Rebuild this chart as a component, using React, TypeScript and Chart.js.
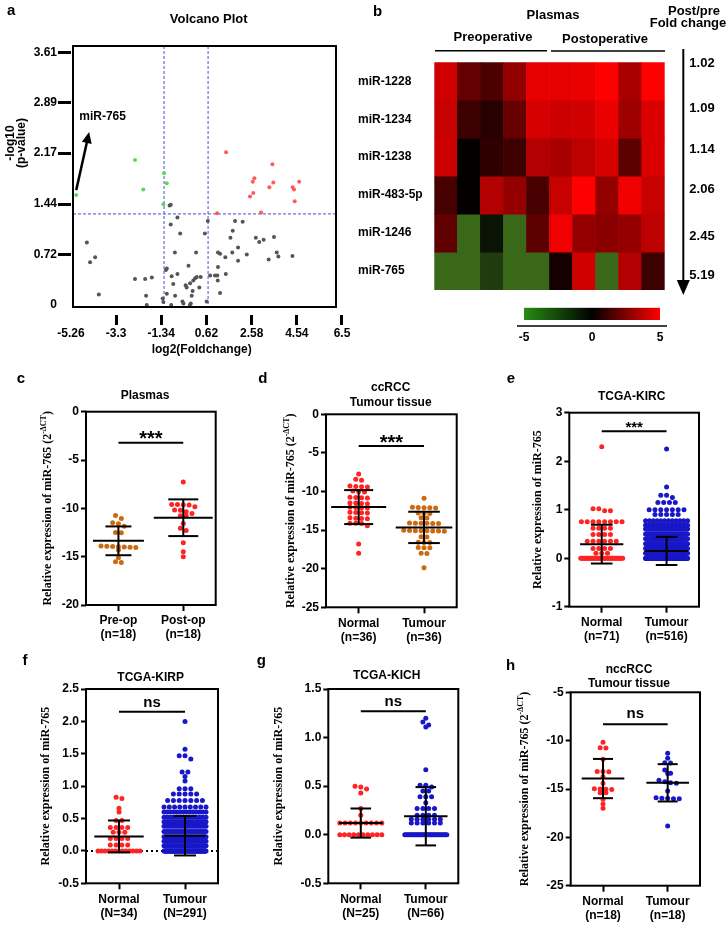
import React, { useEffect, useRef } from 'react';
import { Chart, registerables } from 'chart.js';

Chart.register(...registerables);

const SANS = 'Arial, "Liberation Sans", Helvetica, sans-serif';
const SERIF = '"Times New Roman", "Liberation Serif", Times, serif';
Chart.defaults.font.family = SANS;
Chart.defaults.color = '#000';

const RED = '#ff2424';
const ORANGE = '#cc6a12';
const BLUE = '#1818c8';

/* ---------------- a: volcano plot ---------------- */
const volcanoXTicks = [-5.26, -3.3, -1.34, 0.62, 2.58, 4.54, 6.5];
const volcanoYTicks = [0, 0.72, 1.44, 2.17, 2.89, 3.61];
const volcanoFcCutoffs = [-1.22, 0.69];
const volcanoPCutoff = 1.3;
const volcanoDown = [[-5.03, 1.57], [-2.48, 2.07], [-2.12, 1.65], [-1.22, 1.88], [-1.1, 1.74], [-1.25, 1.44]];
const volcanoUp = [[1.47, 2.18], [3.48, 2.01], [2.7, 1.81], [2.63, 1.76], [3.52, 1.75], [3.35, 1.68], [4.64, 1.76], [4.36, 1.68], [4.42, 1.65], [2.65, 1.6], [2.51, 1.55], [4.45, 1.48], [2.99, 1.32], [1.08, 1.31]];
const volcanoNs = [[-0.98, 1.42], [-0.93, 1.43], [-0.64, 1.25], [-0.93, 1.15], [-0.52, 1.02], [0.68, 1.2], [0.55, 1.02], [1.86, 1.2], [2.19, 1.19], [1.76, 1.06], [1.66, 0.96], [2.76, 0.96], [3.1, 0.93], [2.91, 0.9], [3.55, 0.97], [-4.57, 0.89], [1.99, 0.82], [2.37, 0.72], [1.74, 0.75], [1.44, 0.68], [1.12, 0.75], [1.21, 0.73], [0.17, 0.75], [-0.75, 0.75], [-4.21, 0.68], [-4.43, 0.61], [1.99, 0.63], [3.32, 0.65], [3.67, 0.75], [3.74, 0.69], [4.35, 0.7], [1.12, 0.54], [-0.16, 0.56], [-1.14, 0.5], [-1.1, 0.52], [-2.48, 0.37], [-2.04, 0.37], [-1.75, 0.39], [-0.89, 0.41], [-0.64, 0.44], [-0.82, 0.3], [-0.28, 0.28], [-0.24, 0.25], [-0.09, 0.31], [0.05, 0.35], [0.13, 0.38], [0.2, 0.4], [0.02, 0.2], [0.31, 0.25], [0.37, 0.4], [0.78, 0.42], [0.99, 0.42], [1.09, 0.42], [1.46, 0.44], [1.11, 0.35], [1.21, 0.17], [-0.02, 0.13], [-0.74, 0.13], [-1.1, 0.16], [-1.28, 0.09], [-1.25, 0.04], [-2.0, 0.13], [-4.05, 0.15], [-0.42, 0.05], [-0.38, 0.02], [-0.91, 0.0], [-1.97, 0.0], [-0.06, 0.02], [-0.1, 0.0], [0.63, 0.05]];
const volcanoArrow = [[-5.03, 1.64], [-4.47, 2.47]];
const volcanoLabel = 'miR-765';
const volcanoLabelAt = [-3.885, 2.69];

/* ---------------- b: heatmap ---------------- */
const heatRows = ['miR-1228', 'miR-1234', 'miR-1238', 'miR-483-5p', 'miR-1246', 'miR-765'];
const heatCols = ['Pre1', 'Pre2', 'Pre3', 'Pre4', 'Pre5', 'Post1', 'Post2', 'Post3', 'Post4', 'Post5'];
const heatValues = [
  [4.1, 2.0, 1.5, 2.9, 4.5, 4.5, 4.6, 5.0, 3.3, 5.0],
  [3.9, 1.2, 0.8, 2.0, 4.2, 4.0, 4.1, 4.6, 3.1, 4.3],
  [4.0, 0.1, 0.9, 1.2, 3.5, 3.3, 3.7, 4.2, 1.8, 4.3],
  [1.4, 0.1, 3.5, 2.9, 1.4, 3.9, 5.0, 2.9, 4.7, 3.9],
  [1.9, -3.7, -0.7, -3.7, 1.8, 4.7, 2.9, 2.7, 2.9, 3.7],
  [-3.7, -3.7, -2.1, -3.7, -3.7, 0.4, 4.1, -3.7, 3.5, 1.2],
];
const foldChanges = ['1.02', '1.09', '1.14', '2.06', '2.45', '5.19'];
const colorbarTicks = [-5, 0, 5];

/* ---------------- c: plasma ---------------- */
const plasmaGroups = [['Pre-op', '(n=18)'], ['Post-op', '(n=18)']];
const plasmaPre = [-10.73, -11.05, -11.49, -11.6, -11.85, -12.49, -12.52, -13.9, -13.95, -14.0, -14.05, -13.98, -14.02, -13.93, -14.32, -15.11, -15.6, -15.52];
const plasmaPost = [-7.28, -9.59, -9.62, -9.65, -9.6, -9.83, -10.18, -10.2, -10.35, -10.52, -10.76, -10.8, -11.56, -12.07, -12.3, -13.56, -14.49, -15.01];
const plasmaMeans = [-13.36, -10.97];
const plasmaSDs = [1.49, 1.9];

/* ---------------- d: ccRCC tissue ---------------- */
const ccGroups = [['Normal', '(n=36)'], ['Tumour', '(n=36)']];
const ccNormal = [-7.73, -8.42, -8.55, -9.3, -9.37, -9.42, -9.35, -10.0, -10.05, -9.95, -10.8, -10.75, -10.85, -10.78, -11.5, -11.55, -11.48, -11.6, -12.1, -12.05, -12.15, -12.08, -12.7, -12.75, -12.8, -12.72, -13.45, -13.5, -13.4, -13.52, -14.1, -14.15, -14.12, -14.45, -16.8, -18.0];
const ccTumour = [-10.88, -12.05, -12.1, -12.12, -12.15, -12.08, -12.8, -12.85, -12.82, -13.39, -13.42, -14.1, -14.12, -14.15, -14.08, -14.14, -14.11, -15.1, -15.05, -15.12, -15.08, -15.15, -15.1, -15.02, -15.13, -15.85, -15.88, -16.6, -16.62, -16.58, -17.28, -17.3, -17.25, -18.0, -18.02, -19.87];
const ccMeans = [-12.02, -14.65];
const ccSDs = [2.2, 2.03];

/* ---------------- e: TCGA-KIRC ([value, count]) ---------------- */
const kircGroups = [['Normal', '(n=71)'], ['Tumour', '(n=516)']];
const kircNormalRows = [[2.3, 1], [1.02, 2], [0.98, 2], [0.75, 8], [0.62, 4], [0.49, 4], [0.35, 6], [0.2, 4], [0.1, 3], [0, 37]];
const kircTumourRows = [[2.25, 1], [1.47, 1], [1.3, 2], [1.25, 1], [1.15, 4], [1.0, 7], [0.9, 5], [0.77, 12], [0.68, 30], [0.6, 35], [0.5, 40], [0.4, 45], [0.3, 50], [0.2, 55], [0.1, 60], [0, 168]];
const kircMeans = [0.29, 0.15];
const kircSDs = [0.4, 0.29];

/* ---------------- f: TCGA-KIRP ---------------- */
const kirpGroups = [['Normal', '(N=34)'], ['Tumour', '(N=291)']];
const kirpNormalRows = [[0.83, 1], [0.81, 1], [0.66, 1], [0.6, 1], [0.47, 2], [0.36, 4], [0.29, 3], [0.19, 4], [0.09, 4], [0, 13]];
const kirpTumourRows = [[2.0, 1], [1.57, 1], [1.47, 2], [1.42, 1], [1.22, 2], [1.15, 1], [1.08, 1], [0.96, 3], [0.88, 5], [0.78, 7], [0.68, 9], [0.6, 14], [0.52, 18], [0.45, 20], [0.38, 20], [0.3, 22], [0.22, 24], [0.15, 24], [0.08, 26], [0, 90]];
const kirpMeans = [0.224, 0.235];
const kirpSDs = [0.246, 0.305];

/* ---------------- g: TCGA-KICH ---------------- */
const kichGroups = [['Normal', '(N=25)'], ['Tumour', '(N=66)']];
const kichNormalRows = [[0.5, 1], [0.49, 1], [0.47, 1], [0.43, 1], [0.27, 1], [0.2, 1], [0.12, 9], [0, 10]];
const kichTumourRows = [[1.2, 1], [1.16, 1], [1.13, 1], [1.11, 1], [0.67, 1], [0.51, 2], [0.49, 1], [0.45, 2], [0.39, 3], [0.33, 1], [0.27, 4], [0.2, 4], [0.16, 6], [0.12, 6], [0, 32]];
const kichMeans = [0.12, 0.19];
const kichSDs = [0.15, 0.3];

/* ---------------- h: nccRCC tissue ---------------- */
const nccGroups = [['Normal', '(n=18)'], ['Tumour', '(n=18)']];
const nccNormal = [-10.17, -10.73, -10.75, -11.93, -13.2, -13.22, -13.18, -13.73, -14.41, -15.0, -14.98, -15.02, -15.05, -15.38, -15.4, -16.07, -16.55, -17.0];
const nccTumour = [-11.31, -11.83, -12.28, -12.3, -13.03, -13.38, -13.4, -14.1, -14.25, -14.35, -14.41, -15.2, -15.96, -15.9, -16.0, -15.95, -16.02, -18.83];
const nccMeans = [-13.92, -14.36];
const nccSDs = [2.03, 1.93];

const yTitleText = 'Relative expression of miR-765';

/* ---------------- helpers ---------------- */
function expand(rows: number[][]): number[] {
  const out: number[] = [];
  rows.forEach(([v, n]) => {
    for (let i = 0; i < n; i++) out.push(v);
  });
  return out;
}

// beeswarm-like row layout of the points of one group
function swarm(values: number[], center: number, spacing: number, maxHalf: number, tol: number) {
  const sorted = [...values].sort((a, b) => b - a);
  const bins: number[][] = [];
  let cur: number[] = [];
  let start = 0;
  for (const v of sorted) {
    if (cur.length && start - v > tol) {
      bins.push(cur);
      cur = [];
    }
    if (!cur.length) start = v;
    cur.push(v);
  }
  if (cur.length) bins.push(cur);
  const pts: { x: number; y: number }[] = [];
  for (const bin of bins) {
    const n = bin.length;
    let sp = spacing;
    if (n > 1 && (n - 1) * sp > 2 * maxHalf) sp = (2 * maxHalf) / (n - 1);
    bin.forEach((v, k) => pts.push({ x: center + (k - (n - 1) / 2) * sp, y: v }));
  }
  return pts;
}

function heatColor(v: number) {
  if (v >= 0) {
    const t = Math.min(v / 5, 1);
    return `rgb(${Math.round(255 * t)},0,0)`;
  }
  const t = Math.min(-v / 5, 1);
  return `rgb(${Math.round(75 * t)},${Math.round(140 * t)},${Math.round(32 * t)})`;
}

function textFn(ctx: CanvasRenderingContext2D, ox: number, oy: number) {
  return (s: string, x: number, y: number, size = 12, align: CanvasTextAlign = 'center', baseline: CanvasTextBaseline = 'middle', family = SANS) => {
    ctx.save();
    ctx.font = `bold ${size}px ${family}`;
    ctx.fillStyle = '#000';
    ctx.textAlign = align;
    ctx.textBaseline = baseline;
    ctx.fillText(s, x - ox, y - oy);
    ctx.restore();
  };
}

function line(ctx: CanvasRenderingContext2D, x1: number, y1: number, x2: number, y2: number) {
  ctx.beginPath();
  ctx.moveTo(x1, y1);
  ctx.lineTo(x2, y2);
  ctx.stroke();
}

const baseOptions: any = {
  responsive: false,
  maintainAspectRatio: false,
  animation: false,
  events: [],
  plugins: { legend: { display: false }, tooltip: { enabled: false }, title: { display: false } },
};

const tickFont = { family: SANS, size: 12, weight: 'bold' as const };
const transparent = 'rgba(0,0,0,0)';

/* ---------------- volcano config ---------------- */
const volcanoCanvas = [0, 0, 370, 360];
function volcanoConfig(): any {
  const [cl, ct, cw, ch] = volcanoCanvas;
  const [L, T, R, B] = [73, 46, 336, 307];
  const toPts = (arr: number[][]) => arr.map(([x, y]) => ({ x, y }));
  const ds = (data: number[][], color: string) => ({
    data: toPts(data),
    backgroundColor: color,
    borderColor: color,
    borderWidth: 0,
    pointRadius: 2,
  });
  return {
    type: 'scatter',
    data: { datasets: [ds(volcanoNs, '#555555'), ds(volcanoDown, '#5ad85a'), ds(volcanoUp, '#ff5a5a')] },
    options: {
      ...baseOptions,
      layout: { padding: { left: 0, top: T - ct, right: cl + cw - R, bottom: 0 }, autoPadding: false },
      scales: {
        x: {
          type: 'linear',
          min: -5.17,
          max: 6.24,
          afterBuildTicks: (s: any) => {
            s.ticks = volcanoXTicks.map((value) => ({ value }));
          },
          ticks: { font: tickFont, color: '#000', padding: 1, maxRotation: 0, autoSkip: false, callback: (v: any) => String(v) },
          grid: {
            display: true,
            drawOnChartArea: false,
            drawTicks: true,
            tickLength: 18,
            tickWidth: 3,
            tickColor: (c: any) => (c.tick && c.tick.value === volcanoXTicks[0] ? transparent : '#000'),
            tickBorderDash: [10, 8],
            tickBorderDashOffset: 10,
          },
          border: { display: false },
          afterFit: (s: any) => {
            s.height = ct + ch - B;
          },
        },
        y: {
          type: 'linear',
          min: -0.03,
          max: 3.7,
          afterBuildTicks: (s: any) => {
            s.ticks = volcanoYTicks.map((value) => ({ value }));
          },
          ticks: { font: tickFont, color: '#000', padding: 1, autoSkip: false, callback: (v: any) => String(v) },
          grid: {
            display: true,
            drawOnChartArea: false,
            drawTicks: true,
            tickLength: 15,
            tickWidth: 3,
            tickColor: (c: any) => (c.tick && c.tick.value === 0 ? transparent : '#000'),
            tickBorderDash: [13, 2],
          },
          border: { display: false },
          afterFit: (s: any) => {
            s.width = L - cl;
          },
        },
      },
    },
    plugins: [
      {
        id: 'volcanoDecor',
        beforeDatasetsDraw(chart: any) {
          const { ctx, chartArea: a, scales } = chart;
          ctx.save();
          ctx.strokeStyle = '#4c4cd6';
          ctx.lineWidth = 1;
          ctx.setLineDash([3, 2]);
          volcanoFcCutoffs.forEach((v) => {
            const px = scales.x.getPixelForValue(v);
            line(ctx, px, a.top, px, a.bottom);
          });
          const py = scales.y.getPixelForValue(volcanoPCutoff);
          line(ctx, a.left, py, a.right, py);
          ctx.restore();
        },
        afterDraw(chart: any) {
          const { ctx, chartArea: a, scales } = chart;
          ctx.save();
          ctx.strokeStyle = '#000';
          ctx.lineWidth = 2;
          ctx.strokeRect(a.left, a.top, a.right - a.left, a.bottom - a.top);
          // arrow to miR-765
          const x0 = scales.x.getPixelForValue(volcanoArrow[0][0]);
          const y0 = scales.y.getPixelForValue(volcanoArrow[0][1]);
          const x1 = scales.x.getPixelForValue(volcanoArrow[1][0]);
          const y1 = scales.y.getPixelForValue(volcanoArrow[1][1]);
          const ang = Math.atan2(y1 - y0, x1 - x0);
          const head = 11;
          ctx.lineWidth = 2.5;
          line(ctx, x0, y0, x1 - Math.cos(ang) * head * 0.8, y1 - Math.sin(ang) * head * 0.8);
          ctx.fillStyle = '#000';
          ctx.beginPath();
          ctx.moveTo(x1, y1);
          ctx.lineTo(x1 - head * Math.cos(ang) + 5 * Math.sin(ang), y1 - head * Math.sin(ang) - 5 * Math.cos(ang));
          ctx.lineTo(x1 - head * Math.cos(ang) - 5 * Math.sin(ang), y1 - head * Math.sin(ang) + 5 * Math.cos(ang));
          ctx.closePath();
          ctx.fill();
          ctx.restore();
          const t = textFn(ctx, cl, ct);
          t(volcanoLabel, scales.x.getPixelForValue(volcanoLabelAt[0]) + cl, scales.y.getPixelForValue(volcanoLabelAt[1]) + ct, 12);
          t('a', 7, 15, 15, 'left', 'alphabetic');
          t('Volcano Plot', 208.7, 19, 13);
          t('log2(Foldchange)', 201.7, 350, 12);
          // rotated y title
          ctx.save();
          ctx.translate(16 - cl, 143 - ct);
          ctx.rotate(-Math.PI / 2);
          ctx.font = `bold 12px ${SANS}`;
          ctx.fillStyle = '#000';
          ctx.textAlign = 'center';
          ctx.textBaseline = 'middle';
          ctx.fillText('-log10', 0, -5);
          ctx.fillText('(p-value)', 0, 6);
          ctx.restore();
        },
      },
    ],
  };
}

/* ---------------- heatmap config ---------------- */
const heatCanvas = [350, 0, 378, 300];
function heatmapConfig(): any {
  const [cl, ct, cw, ch] = heatCanvas;
  const [L, T, R, B] = [434.3, 62.3, 664.7, 290];
  const padLeft = 8;
  return {
    type: 'bar',
    data: {
      labels: heatCols,
      datasets: heatRows.map((name, r) => ({
        label: name,
        data: heatCols.map(() => [r, r + 1]),
        backgroundColor: heatValues[r].map(heatColor),
        borderWidth: 0,
        barPercentage: 1,
        categoryPercentage: 1,
        grouped: false,
      })),
    },
    options: {
      ...baseOptions,
      layout: { padding: { left: padLeft, top: T - ct, right: cl + cw - R, bottom: ct + ch - B }, autoPadding: false },
      scales: {
        x: { display: false },
        y: {
          type: 'linear',
          min: 0,
          max: heatRows.length,
          reverse: true,
          afterBuildTicks: (s: any) => {
            s.ticks = heatRows.map((_, i) => ({ value: i + 0.5 }));
          },
          ticks: { callback: (v: any) => heatRows[Math.floor(v)], crossAlign: 'far', padding: 0, font: tickFont, color: '#000', autoSkip: false },
          grid: { display: false, drawTicks: false },
          border: { display: false },
          afterFit: (s: any) => {
            s.width = L - cl - padLeft;
          },
        },
      },
    },
    plugins: [
      {
        id: 'heatDecor',
        afterDraw(chart: any) {
          const { ctx } = chart;
          const t = textFn(ctx, cl, ct);
          t('b', 373, 16, 15, 'left', 'alphabetic');
          t('Plasmas', 553, 15, 13);
          t('Preoperative', 493, 37, 13);
          t('Postoperative', 605, 39, 13);
          t('Post/pre', 694, 11, 13);
          t('Fold change', 688, 23, 13);
          ctx.save();
          ctx.strokeStyle = '#000';
          ctx.lineWidth = 1.5;
          line(ctx, 435 - cl, 50.7, 547 - cl, 50.7);
          line(ctx, 551 - cl, 51, 665 - cl, 51);
          ctx.lineWidth = 2;
          line(ctx, 683.3 - cl, 49, 683.3 - cl, 283);
          ctx.fillStyle = '#000';
          ctx.beginPath();
          ctx.moveTo(676.8 - cl, 280);
          ctx.lineTo(689.8 - cl, 280);
          ctx.lineTo(683.3 - cl, 295);
          ctx.closePath();
          ctx.fill();
          ctx.restore();
          const fcY = [63, 108, 149, 189, 236, 275];
          foldChanges.forEach((s, i) => t(s, 702, fcY[i], 13));
        },
      },
    ],
  };
}

/* ---------------- colour bar config ---------------- */
const cbarCanvas = [505, 300, 175, 45];
function colorbarConfig(): any {
  const [cl, ct, cw, ch] = cbarCanvas;
  const [L, T, R, B] = [524, 307.7, 660, 320];
  return {
    type: 'bar',
    data: {
      labels: [''],
      datasets: [
        {
          data: [[colorbarTicks[0], colorbarTicks[colorbarTicks.length - 1]]],
          backgroundColor: (c: any) => {
            const chart = c.chart;
            if (!chart.chartArea) return '#000';
            const xs = chart.scales.x;
            const g = chart.ctx.createLinearGradient(xs.getPixelForValue(-5), 0, xs.getPixelForValue(5), 0);
            g.addColorStop(0, 'rgb(40,140,20)');
            g.addColorStop(0.5, '#000');
            g.addColorStop(1, '#ff0000');
            return g;
          },
          borderWidth: 0,
          barPercentage: 1,
          categoryPercentage: 1,
        },
      ],
    },
    options: {
      ...baseOptions,
      indexAxis: 'y',
      layout: { padding: { left: L - cl, top: T - ct, right: cl + cw - R, bottom: 0 }, autoPadding: false },
      scales: {
        x: {
          type: 'linear',
          min: -5,
          max: 5,
          afterBuildTicks: (s: any) => {
            s.ticks = colorbarTicks.map((value) => ({ value }));
          },
          ticks: { font: tickFont, color: '#000', padding: 10, maxRotation: 0, autoSkip: false },
          grid: { display: false, drawTicks: false },
          border: { display: false },
          afterFit: (s: any) => {
            s.height = ct + ch - B;
          },
        },
        y: { display: false },
      },
    },
    plugins: [
      {
        id: 'cbarLine',
        afterDraw(chart: any) {
          const { ctx, chartArea: a } = chart;
          ctx.save();
          ctx.strokeStyle = '#000';
          ctx.lineWidth = 1.5;
          line(ctx, a.left - 7, a.bottom + 6, a.right + 7, a.bottom + 6);
          ctx.restore();
        },
      },
    ],
  };
}

/* ---------------- dot plot panels ---------------- */
type Panel = {
  canvas: number[];
  box: number[];
  letter: [string, number, number];
  title: string[];
  titleX: number;
  titleY: number[];
  yTitleX: number;
  sup: boolean;
  yMin: number;
  yMax: number;
  yStep: number;
  dec: number;
  groups: string[][];
  values: number[][];
  colors: string[];
  means: number[];
  sds: number[];
  meanHalf: number[];
  capHalf: number[];
  sigY: number;
  sigText: string;
  sigSize: number;
  sigDy: number;
  zeroLine?: boolean;
};

const panels: Panel[] = [
  {
    canvas: [0, 365, 240, 290], box: [86, 411.7, 215.7, 605], letter: ['c', 16.7, 383.3],
    title: ['Plasmas'], titleX: 145, titleY: [396], yTitleX: 48, sup: true,
    yMin: -20, yMax: 0, yStep: 5, dec: 0, groups: plasmaGroups, values: [plasmaPre, plasmaPost], colors: [ORANGE, RED],
    means: plasmaMeans, sds: plasmaSDs, meanHalf: [25.5, 29.5], capHalf: [13, 15],
    sigY: -3.2, sigText: '***', sigSize: 20, sigDy: 2,
  },
  {
    canvas: [240, 365, 240, 290], box: [326, 414.3, 456.7, 607.3], letter: ['d', 258.3, 383.3],
    title: ['ccRCC', 'Tumour tissue'], titleX: 390.7, titleY: [388, 402.7], yTitleX: 291, sup: true,
    yMin: -25, yMax: 0, yStep: 5, dec: 0, groups: ccGroups, values: [ccNormal, ccTumour], colors: [RED, ORANGE],
    means: ccMeans, sds: ccSDs, meanHalf: [27.5, 28.3], capHalf: [14.5, 15.8],
    sigY: -4.1, sigText: '***', sigSize: 20, sigDy: 2.6,
  },
  {
    canvas: [480, 365, 248, 290], box: [569.3, 412.7, 699, 606.7], letter: ['e', 506.7, 383.3],
    title: ['TCGA-KIRC'], titleX: 631.7, titleY: [396.7], yTitleX: 538, sup: false,
    yMin: -1, yMax: 3, yStep: 1, dec: 0, groups: kircGroups, values: [expand(kircNormalRows), expand(kircTumourRows)], colors: [RED, BLUE],
    means: kircMeans, sds: kircSDs, meanHalf: [21.6, 21.3], capHalf: [10.8, 10.8],
    sigY: 2.62, sigText: '***', sigSize: 15, sigDy: 0.5,
  },
  {
    canvas: [0, 645, 240, 281], box: [86, 689, 218, 883.3], letter: ['f', 22.5, 665],
    title: ['TCGA-KIRP'], titleX: 150.7, titleY: [677.3], yTitleX: 46, sup: false,
    yMin: -0.5, yMax: 2.5, yStep: 0.5, dec: 1, groups: kirpGroups, values: [expand(kirpNormalRows), expand(kirpTumourRows)], colors: [RED, BLUE],
    means: kirpMeans, sds: kirpSDs, meanHalf: [24.7, 20.5], capHalf: [11, 11],
    sigY: 2.15, sigText: 'ns', sigSize: 15, sigDy: -5, zeroLine: true,
  },
  {
    canvas: [240, 645, 240, 281], box: [328.3, 689, 458.3, 883.3], letter: ['g', 256.7, 665],
    title: ['TCGA-KICH'], titleX: 386.7, titleY: [676], yTitleX: 279, sup: false,
    yMin: -0.5, yMax: 1.5, yStep: 0.5, dec: 1, groups: kichGroups, values: [expand(kichNormalRows), expand(kichTumourRows)], colors: [RED, BLUE],
    means: kichMeans, sds: kichSDs, meanHalf: [21.8, 21.7], capHalf: [10.3, 10.3],
    sigY: 1.27, sigText: 'ns', sigSize: 15, sigDy: -5,
  },
  {
    canvas: [480, 645, 248, 281], box: [570.7, 692.3, 700, 885.7], letter: ['h', 506, 670],
    title: ['nccRCC', 'Tumour tissue'], titleX: 629, titleY: [670, 684], yTitleX: 525, sup: true,
    yMin: -25, yMax: -5, yStep: 5, dec: 0, groups: nccGroups, values: [nccNormal, nccTumour], colors: [RED, BLUE],
    means: nccMeans, sds: nccSDs, meanHalf: [21.3, 21.3], capHalf: [10, 10],
    sigY: -8.31, sigText: 'ns', sigSize: 15, sigDy: -6,
  },
];

function drawYTitle(ctx: CanvasRenderingContext2D, x: number, y: number, sup: boolean) {
  ctx.save();
  ctx.translate(x, y);
  ctx.rotate(-Math.PI / 2);
  ctx.fillStyle = '#000';
  ctx.textBaseline = 'middle';
  ctx.textAlign = 'left';
  const main = `bold 12px ${SERIF}`;
  const small = `bold 8px ${SERIF}`;
  const parts: [string, string, number][] = sup
    ? [[yTitleText + ' (2', main, 0], ['-ΔCT', small, -4], [')', main, 0]]
    : [[yTitleText, main, 0]];
  let total = 0;
  parts.forEach(([s, f]) => {
    ctx.font = f;
    total += ctx.measureText(s).width;
  });
  let cx = -total / 2;
  parts.forEach(([s, f, dy]) => {
    ctx.font = f;
    ctx.fillText(s, cx, dy);
    cx += ctx.measureText(s).width;
  });
  ctx.restore();
}

function dotConfig(p: Panel): any {
  const [cl, ct, cw, ch] = p.canvas;
  const [L, T, R, B] = p.box;
  const unitPx = (R - L) / 2;
  const yPx = (B - T) / (p.yMax - p.yMin);
  const tol = 3.5 / yPx;
  const datasets = p.values.map((vals, i) => ({
    data: swarm(vals, i + 0.5, 5.8 / unitPx, 21 / unitPx, tol),
    backgroundColor: p.colors[i],
    borderColor: p.colors[i],
    borderWidth: 0,
    pointRadius: 2.5,
  }));
  const axisGrid = (len: number) => ({
    display: true,
    drawOnChartArea: false,
    drawTicks: true,
    tickLength: len,
    tickWidth: 2,
    tickColor: '#000',
  });
  return {
    type: 'scatter',
    data: { datasets },
    options: {
      ...baseOptions,
      layout: { padding: { left: 0, top: T - ct, right: cl + cw - R, bottom: 0 }, autoPadding: false },
      scales: {
        x: {
          type: 'linear',
          min: 0,
          max: 2,
          afterBuildTicks: (s: any) => {
            s.ticks = [{ value: 0.5 }, { value: 1.5 }];
          },
          ticks: {
            callback: (_v: any, i: number) => p.groups[i],
            font: { ...tickFont, lineHeight: 1.17 },
            color: '#000',
            padding: 3,
            maxRotation: 0,
            autoSkip: false,
          },
          grid: axisGrid(6),
          border: { display: false },
          afterFit: (s: any) => {
            s.height = ct + ch - B;
          },
        },
        y: {
          type: 'linear',
          min: p.yMin,
          max: p.yMax,
          ticks: {
            stepSize: p.yStep,
            font: tickFont,
            color: '#000',
            padding: 2,
            autoSkip: false,
            callback: (v: any) => Number(v).toFixed(p.dec),
          },
          grid: axisGrid(5),
          border: { display: false },
          afterFit: (s: any) => {
            s.width = L - cl;
          },
        },
      },
    },
    plugins: [
      {
        id: 'dotDecor',
        beforeDatasetsDraw(chart: any) {
          if (!p.zeroLine) return;
          const { ctx, chartArea: a, scales } = chart;
          const y0 = scales.y.getPixelForValue(0);
          ctx.save();
          ctx.strokeStyle = '#000';
          ctx.lineWidth = 2;
          ctx.setLineDash([2, 3]);
          line(ctx, a.left, y0, a.right, y0);
          ctx.restore();
        },
        afterDatasetsDraw(chart: any) {
          const { ctx, scales } = chart;
          const xs = scales.x;
          const ys = scales.y;
          ctx.save();
          ctx.strokeStyle = '#000';
          ctx.lineWidth = 2;
          p.means.forEach((m, i) => {
            const cx = xs.getPixelForValue(i + 0.5);
            const my = ys.getPixelForValue(m);
            const hi = ys.getPixelForValue(m + p.sds[i]);
            const lo = ys.getPixelForValue(m - p.sds[i]);
            line(ctx, cx - p.meanHalf[i], my, cx + p.meanHalf[i], my);
            line(ctx, cx, hi, cx, lo);
            line(ctx, cx - p.capHalf[i], hi, cx + p.capHalf[i], hi);
            line(ctx, cx - p.capHalf[i], lo, cx + p.capHalf[i], lo);
          });
          const sy = ys.getPixelForValue(p.sigY);
          const sx1 = xs.getPixelForValue(0.5);
          const sx2 = xs.getPixelForValue(1.5);
          line(ctx, sx1, sy, sx2, sy);
          ctx.font = `bold ${p.sigSize}px ${SANS}`;
          ctx.fillStyle = '#000';
          ctx.textAlign = 'center';
          ctx.textBaseline = 'alphabetic';
          ctx.fillText(p.sigText, (sx1 + sx2) / 2, sy + p.sigDy);
          ctx.restore();
        },
        afterDraw(chart: any) {
          const { ctx, chartArea: a } = chart;
          ctx.save();
          ctx.strokeStyle = '#000';
          ctx.lineWidth = 2;
          ctx.strokeRect(a.left, a.top, a.right - a.left, a.bottom - a.top);
          ctx.restore();
          const t = textFn(ctx, cl, ct);
          t(p.letter[0], p.letter[1], p.letter[2], 15, 'left', 'alphabetic');
          p.title.forEach((s, i) => t(s, p.titleX, p.titleY[i], 12));
          drawYTitle(ctx, p.yTitleX - cl, (a.top + a.bottom) / 2, p.sup);
        },
      },
    ],
  };
}

/* ---------------- React ---------------- */
function ChartCanvas({ rect, make }: { rect: number[]; make: () => any }) {
  const ref = useRef<HTMLCanvasElement | null>(null);
  useEffect(() => {
    if (!ref.current) return;
    const chart = new Chart(ref.current, make());
    return () => chart.destroy();
  }, []);
  const [left, top, width, height] = rect;
  return <canvas ref={ref} width={width} height={height} style={{ position: 'absolute', left, top, width, height }} />;
}

export default function App() {
  return (
    <div style={{ position: 'absolute', left: 0, top: 0, width: 728, height: 926, background: '#fff', overflow: 'hidden' }}>
      <ChartCanvas rect={volcanoCanvas} make={volcanoConfig} />
      <ChartCanvas rect={heatCanvas} make={heatmapConfig} />
      <ChartCanvas rect={cbarCanvas} make={colorbarConfig} />
      {panels.map((p, i) => (
        <ChartCanvas key={i} rect={p.canvas} make={() => dotConfig(p)} />
      ))}
    </div>
  );
}
